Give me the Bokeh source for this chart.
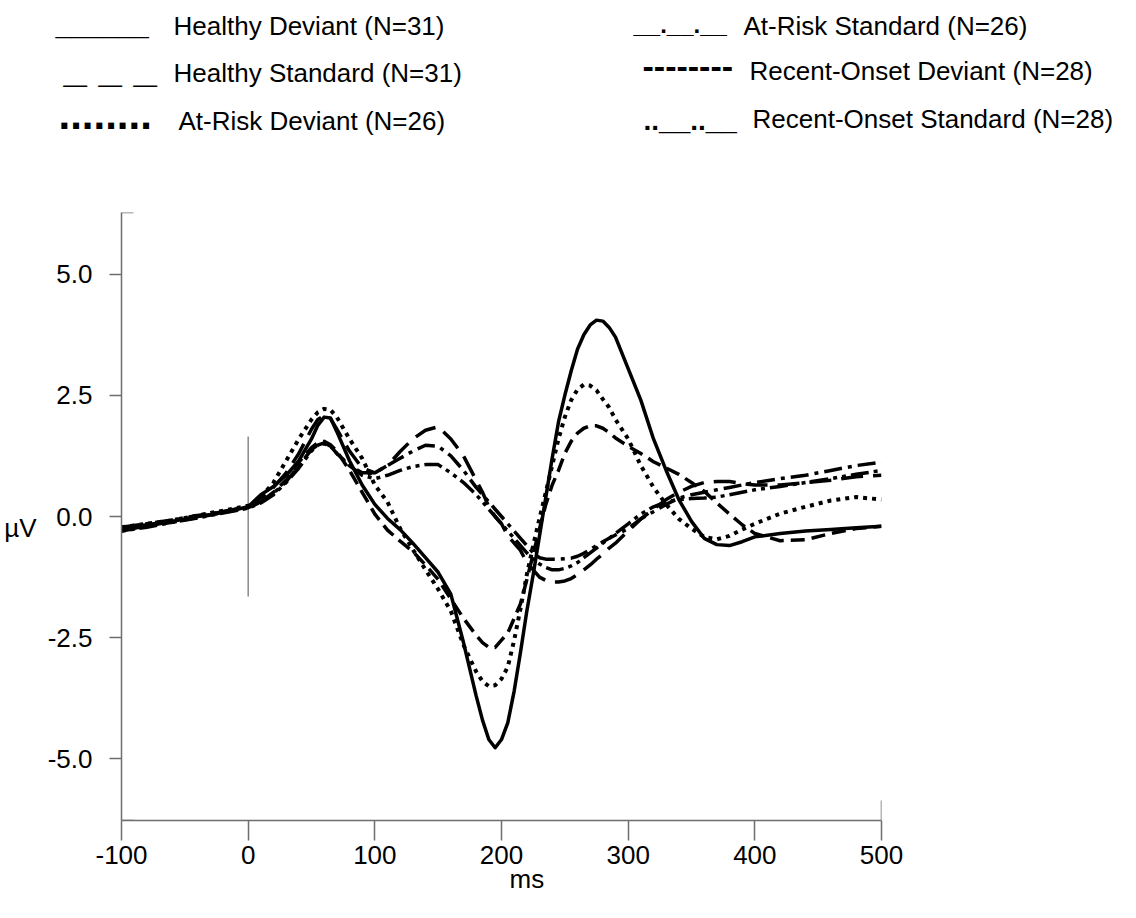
from bokeh.plotting import figure
from bokeh.layouts import column
from bokeh.models import Range1d, FixedTicker, PrintfTickFormatter, LinearAxis
from bokeh.core.properties import value
from bokeh.embed import file_html
from bokeh.resources import INLINE

# ---------------- data (ms, microvolts) ----------------
T = [-100, -80, -60, -40, -20, 0, 10, 20, 30, 40, 50, 55, 60, 65, 70,
     80, 90, 100, 110, 120, 130, 140, 150, 160, 170, 180,
     185, 190, 195, 200, 205, 210, 215, 220, 225, 230, 235, 240, 245, 250,
     255, 260, 265, 270, 275, 280, 285, 290,
     300, 310, 320, 330, 340, 350, 360, 370, 380, 390, 400,
     420, 440, 460, 480, 500]

healthy_deviant = [-0.25, -0.17, -0.1, 0.0, 0.08, 0.2, 0.45, 0.62, 0.85, 1.15, 1.6, 1.88, 2.05, 2.03, 1.75,
                   1.15, 0.65, 0.25, -0.04, -0.27, -0.55, -0.85, -1.15, -1.6, -2.6, -3.7,
                   -4.2, -4.6, -4.77, -4.6, -4.25, -3.6, -2.8, -1.95, -1.2, -0.4, 0.4, 1.2, 1.95, 2.5,
                   3.0, 3.45, 3.75, 3.95, 4.05, 4.03, 3.9, 3.7,
                   3.05, 2.4, 1.6, 0.95, 0.35, -0.1, -0.45, -0.58, -0.6, -0.52, -0.42,
                   -0.35, -0.3, -0.27, -0.23, -0.2]

healthy_standard = [-0.28, -0.2, -0.1, 0.0, 0.1, 0.2, 0.38, 0.6, 0.9, 1.3, 1.8, 2.0, 2.08, 2.02, 1.8,
                    1.35, 1.0, 0.9, 1.05, 1.34, 1.6, 1.78, 1.85, 1.6, 1.25, 0.75,
                    0.5, 0.2, 0.0, -0.15, -0.4, -0.55, -0.7, -0.95, -1.1, -1.25, -1.32, -1.35, -1.35, -1.33,
                    -1.28, -1.2, -1.1, -1.0, -0.88, -0.78, -0.65, -0.55,
                    -0.3, -0.05, 0.15, 0.35, 0.5, 0.62, 0.7, 0.72, 0.72, 0.68, 0.65,
                    0.65, 0.7, 0.75, 0.82, 0.85]

atrisk_deviant = [-0.22, -0.15, -0.08, 0.02, 0.12, 0.22, 0.4, 0.7, 1.15, 1.6, 2.0, 2.15, 2.22, 2.2, 2.05,
                  1.6, 1.2, 0.65, 0.3, -0.25, -0.68, -1.1, -1.5, -1.95, -2.65, -3.2,
                  -3.4, -3.5, -3.48, -3.35, -3.1, -2.55, -1.9, -1.2, -0.6, -0.04, 0.5, 1.05, 1.6, 2.05,
                  2.4, 2.62, 2.72, 2.7, 2.6, 2.42, 2.25, 2.0,
                  1.6, 1.05, 0.6, 0.25, -0.05, -0.25, -0.42, -0.47, -0.4, -0.27, -0.15,
                  0.06, 0.2, 0.33, 0.4, 0.35]

atrisk_standard = [-0.22, -0.15, -0.07, 0.02, 0.1, 0.2, 0.3, 0.48, 0.72, 1.05, 1.38, 1.48, 1.5, 1.45, 1.3,
                   1.05, 0.9, 0.9, 1.05, 1.2, 1.35, 1.47, 1.45, 1.25, 0.95, 0.6,
                   0.45, 0.3, 0.15, 0.0, -0.15, -0.3, -0.45, -0.6, -0.75, -0.85, -0.88, -0.88, -0.88, -0.87,
                   -0.86, -0.82, -0.76, -0.68, -0.6, -0.52, -0.45, -0.38,
                   -0.25, -0.05, 0.1, 0.25, 0.38, 0.45, 0.5, 0.55, 0.6, 0.65, 0.7,
                   0.78, 0.85, 0.95, 1.05, 1.12]

onset_deviant = [-0.3, -0.2, -0.12, -0.02, 0.08, 0.18, 0.3, 0.5, 0.75, 1.12, 1.42, 1.52, 1.55, 1.48, 1.35,
                 0.95, 0.5, 0.05, -0.28, -0.51, -0.72, -1.0, -1.3, -1.7, -2.1, -2.45,
                 -2.6, -2.7, -2.7, -2.55, -2.4, -2.1, -1.8, -1.3, -0.78, -0.25, 0.25, 0.65, 0.95, 1.3,
                 1.55, 1.72, 1.82, 1.87, 1.87, 1.82, 1.73, 1.62,
                 1.45, 1.3, 1.13, 1.0, 0.87, 0.7, 0.52, 0.28, 0.05, -0.17, -0.35,
                 -0.5, -0.48, -0.35, -0.25, -0.2]

onset_standard = [-0.3, -0.22, -0.12, -0.03, 0.07, 0.17, 0.28, 0.45, 0.7, 1.0, 1.35, 1.47, 1.52, 1.45, 1.3,
                  1.05, 0.85, 0.78, 0.85, 0.95, 1.03, 1.07, 1.07, 0.9, 0.7, 0.45,
                  0.3, 0.15, 0.0, -0.15, -0.3, -0.45, -0.6, -0.75, -0.88, -0.98, -1.05, -1.1, -1.1, -1.07,
                  -1.02, -0.95, -0.85, -0.75, -0.65, -0.55, -0.45, -0.35,
                  -0.15, 0.05, 0.2, 0.3, 0.35, 0.37, 0.38, 0.4, 0.45, 0.5, 0.55,
                  0.62, 0.7, 0.78, 0.87, 0.95]

SERIES = [healthy_deviant, healthy_standard, atrisk_deviant,
          atrisk_standard, onset_deviant, onset_standard]
LEGEND_LABELS = ["Healthy Deviant (N=31)", "Healthy Standard (N=31)", "At-Risk Deviant (N=26)",
                 "At-Risk Standard (N=26)", "Recent-Onset Deviant (N=28)", "Recent-Onset Standard (N=28)"]
LEGEND_SAMPLES = ["______", "_ _ _", "........", "__.__.__", "--------", "..__..__"]
X_TICKS = [-100, 0, 100, 200, 300, 400, 500]
Y_TICKS = [-5.0, -2.5, 0.0, 2.5, 5.0]
X_LABEL = "ms"
Y_LABEL = "µV"
STIM_MARK = [-1.65, 1.65]

# ---------------- styling ----------------
FONT = "Liberation Sans"
FS = "26px"
AXIS_GRAY = "#6e6e6e"
DASHES = ["solid", "22 10", "4 5", "18 6 4 6", "14 7", "4 5 4 5 18 5"]
WIDTHS = [3.5, 3.5, 4, 3.5, 3.5, 3.5]

X_MIN, X_MAX = -100, 500
Y_MIN, Y_MAX = -6.27, 6.27
FRAME_W, FRAME_H = 760, 608
px_x = FRAME_W / (X_MAX - X_MIN)
px_y = FRAME_H / (Y_MAX - Y_MIN)
X_LABEL_POS = 220
Y_LABEL_POS = -0.24

LEG_H = 150
p = figure(width=1136, height=765,
           x_range=Range1d(X_MIN, X_MAX), y_range=Range1d(Y_MIN, Y_MAX),
           output_backend="svg", toolbar_location=None,
           min_border_left=121, min_border_right=1136 - 121 - FRAME_W,
           min_border_top=212 - LEG_H, min_border_bottom=765 - (212 - LEG_H) - FRAME_H)
p.outline_line_color = None
p.grid.visible = False
p.background_fill_color = "white"
p.border_fill_color = "white"

for ax, ticks, tout, stand in ((p.xaxis[0], X_TICKS, 20, 5), (p.yaxis[0], Y_TICKS, 12, 17)):
    ax.ticker = FixedTicker(ticks=ticks)
    ax.major_tick_out = tout
    ax.major_tick_in = 0
    ax.minor_tick_line_color = None
    ax.axis_line_color = AXIS_GRAY
    ax.axis_line_width = 1.5
    ax.major_tick_line_color = AXIS_GRAY
    ax.major_tick_line_width = 1.5
    ax.major_label_text_font = FONT
    ax.major_label_text_font_size = FS
    ax.major_label_text_color = "black"
    ax.major_label_standoff = stand
p.yaxis[0].formatter = PrintfTickFormatter(format="%.1f")
p.xaxis[0].major_label_overrides = {t: ("%d" % t).replace("\u2212", "-") for t in X_TICKS}

# axis titles as label-only axes
ms_axis = LinearAxis(ticker=FixedTicker(ticks=[X_LABEL_POS]),
                     major_label_overrides={X_LABEL_POS: X_LABEL},
                     axis_line_color=None, major_tick_line_color=None, minor_tick_line_color=None,
                     major_tick_out=0, major_tick_in=0, major_label_standoff=-3,
                     major_label_text_font=FONT, major_label_text_font_size=FS,
                     major_label_text_color="black")
p.add_layout(ms_axis, "below")
uv_axis = LinearAxis(ticker=FixedTicker(ticks=[Y_LABEL_POS]),
                     major_label_overrides={Y_LABEL_POS: Y_LABEL},
                     axis_line_color=None, major_tick_line_color=None, minor_tick_line_color=None,
                     major_tick_out=0, major_tick_in=0, major_label_standoff=8,
                     major_label_text_font=FONT, major_label_text_font_size=FS,
                     major_label_text_color="black")
p.add_layout(uv_axis, "left")

# inward end ticks of the axes
p.segment(x0=[X_MIN, X_MIN], y0=[Y_MAX, Y_MIN],
          x1=[X_MIN + 12 / px_x] * 2, y1=[Y_MAX, Y_MIN],
          line_color=AXIS_GRAY, line_width=1.5)
p.segment(x0=[X_MAX], y0=[Y_MIN], x1=[X_MAX], y1=[Y_MIN + 20 / px_y],
          line_color=AXIS_GRAY, line_width=1.5)

# stimulus onset marker
p.segment(x0=[0], y0=[STIM_MARK[0]], x1=[0], y1=[STIM_MARK[1]],
          line_color=AXIS_GRAY, line_width=1.2)

for ys, dash, w in zip(SERIES, DASHES, WIDTHS):
    p.line(T, ys, line_color="black", line_width=w, line_dash=dash,
           line_join="round", line_cap="butt")

# ---------------- legend (page-pixel layout) ----------------
lg = figure(width=1136, height=LEG_H, x_range=Range1d(0, 1136), y_range=Range1d(LEG_H, 0),
            output_backend="svg", toolbar_location=None, min_border=0)
lg.axis.visible = False
lg.grid.visible = False
lg.outline_line_color = None
for fig in (lg, p):
    try:
        fig.frame_align = False
    except Exception:
        pass

sample_x = [55, 63, 58, 633, 642, 643]
sample_base = [25, 67, 114, 24, 66, 120]
sample_fs = ["28px", "42px", "42px", "24px", "34px", "28px"]
label_x = [173, 173, 178, 743, 749, 752]
label_y = [25, 72, 120, 25, 70, 118]
lg.text(x=sample_x, y=sample_base, text=LEGEND_SAMPLES, text_font=value(FONT),
        text_font_size=sample_fs, text_font_style="bold", text_baseline="alphabetic",
        text_align="left", text_color="black")
lg.text(x=label_x, y=label_y, text=LEGEND_LABELS, text_font=value(FONT),
        text_font_size=FS, text_baseline="middle", text_align="left",
        text_color="black")

layout = column(lg, p, spacing=0)
open("out.html", "w").write(file_html(layout, INLINE))
